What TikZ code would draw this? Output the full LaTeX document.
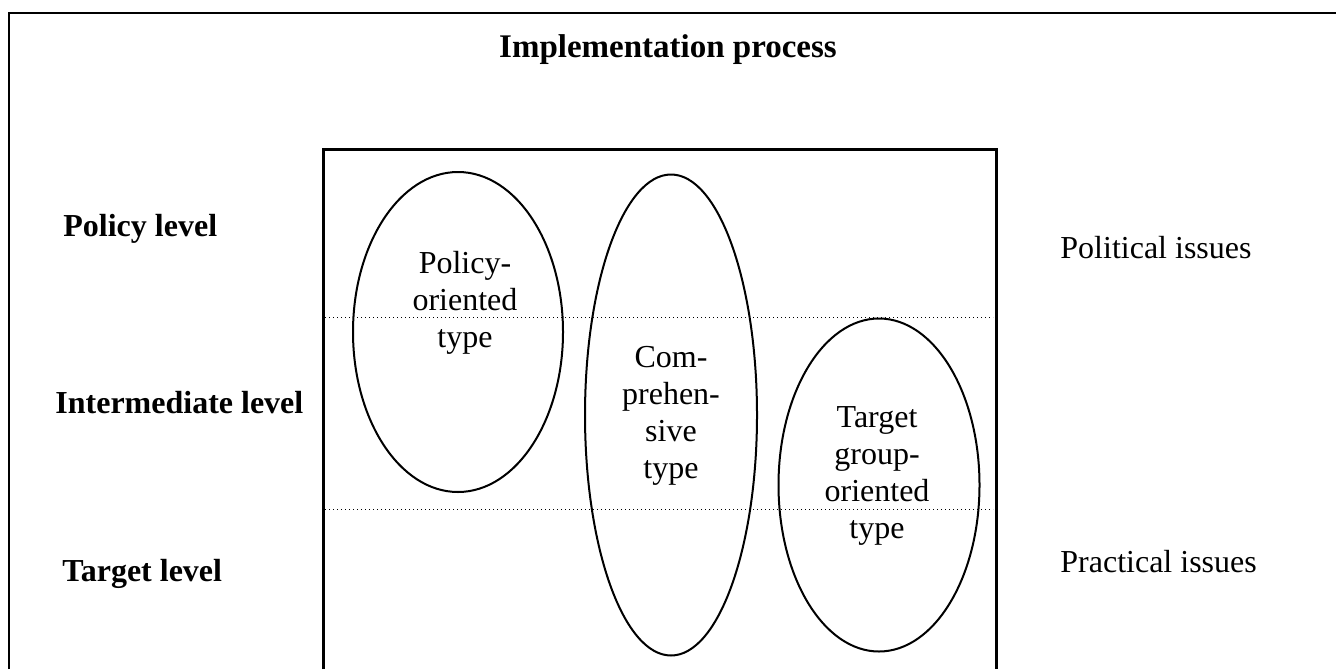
\documentclass[tikz,border=0pt]{standalone}
\usepackage{fontspec}
\setmainfont{Liberation Serif}
\usetikzlibrary{shapes.geometric}
\tikzset{
	lvl/.style = {font=\fontsize{16}{18.4}\selectfont\bfseries, anchor=base west, inner sep=0pt},
	issue/.style = {font=\fontsize{16}{18.4}\selectfont, anchor=base west, inner sep=0pt},
	typeellipse/.style = {ellipse, draw, line width=1pt, inner sep=0pt},
	typetext/.style = {font=\fontsize{16}{18.4}\selectfont, align=center, inner sep=0pt},
	levelline/.style = {line width=0.5pt, dash pattern=on 0.6pt off 1.4pt}
}
\begin{document}
\begin{tikzpicture}[x=0.5pt, y=-0.5pt]
		\useasboundingbox (0, 0) rectangle (1336, 669);
		% outer frame
		\draw [line width=1pt] (9, 669) -- (9, 13) -- (1336, 13);
		\node (title) at (668, 50) [font=\fontsize{16.5}{19}\selectfont\bfseries] {Implementation process};
		% process box
		\coordinate (boxbl) at (323, 669);
		\coordinate (boxtl) at (323, 149);
		\coordinate (boxtr) at (996, 149);
		\coordinate (boxbr) at (996, 669);
		\draw [line width=1.5pt] (boxbl) -- (boxtl) -- (boxtr) -- (boxbr);
		% level borders
		\coordinate (upl) at (325, 317);
		\coordinate (upr) at (993, 317);
		\coordinate (lol) at (325, 509);
		\coordinate (lor) at (993, 509);
		\draw [levelline] (upl) -- (upr);
		\draw [levelline] (lol) -- (lor);
		% levels
		\node (policy) at (63, 236) [lvl] {Policy level};
		\node (inter) at (55, 413) [lvl] {Intermediate level};
		\node (target) at (62, 581) [lvl] {Target level};
		% issues
		\node (political) at (1060, 258) [issue] {Political issues};
		\node (practical) at (1060, 572) [issue] {Practical issues};
		% types
		\node (poltype) at (458, 332) [typeellipse, minimum width=105pt, minimum height=160pt] {};
		\node (comptype) at (671, 415) [typeellipse, minimum width=86pt, minimum height=240.5pt] {};
		\node (tgtype) at (879, 485) [typeellipse, minimum width=100.5pt, minimum height=166.5pt] {};
		\node (poltext) at (465, 303) [typetext] {Policy-\\oriented\\type};
		\node (comptext) at (671, 416) [typetext] {Com-\\prehen-\\sive\\type};
		\node (tgtext) at (877, 476) [typetext] {Target\\group-\\oriented\\type};
	\end{tikzpicture}
\end{document}
